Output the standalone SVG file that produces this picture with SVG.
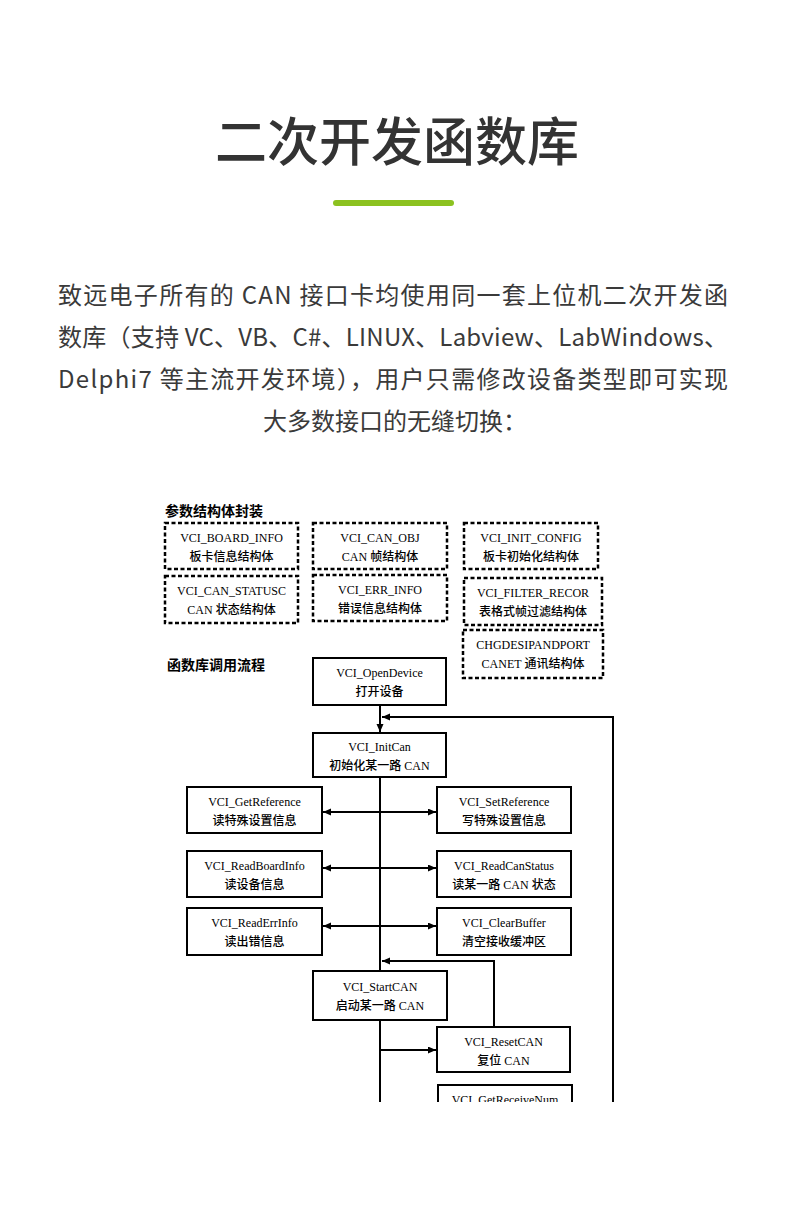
<svg xmlns="http://www.w3.org/2000/svg" width="790" height="1216" viewBox="0 0 790 1216">
<style>
.title{font-family:"Noto Sans CJK SC","Noto Sans",sans-serif;font-size:52px;font-weight:500;fill:#333;text-anchor:middle}
.para{font-family:"Noto Sans CJK SC","Noto Sans",sans-serif;font-size:24px;font-weight:400;fill:#3a3a3a}
.sec{font-family:"Liberation Serif","Noto Sans CJK SC",serif;font-size:14px;font-weight:700;fill:#000}
.t{font-family:"Liberation Serif","Noto Sans CJK SC",serif;font-size:12px;fill:#000;text-anchor:middle}
.c{font-weight:500}
.box{fill:#fff;stroke:#000;stroke-width:2}
.dbox{fill:#fff;stroke:#000;stroke-width:2.5;stroke-dasharray:4 2.5}
.ln{fill:none;stroke:#000;stroke-width:2}
</style>
<defs>
<marker id="ah" markerUnits="userSpaceOnUse" markerWidth="9" markerHeight="8" refX="8" refY="3.5" orient="auto-start-reverse">
<path d="M0,0 L8,3.5 L0,7 z" fill="#000"/>
</marker>
<clipPath id="clip"><rect x="0" y="0" width="790" height="1102"/></clipPath>
</defs>
<rect width="790" height="1216" fill="#fff"/>
<text class="title" x="397" y="161">二次开发函数库</text>
<rect x="333" y="200" width="121" height="6" rx="3" fill="#8cc220"/>
<g id="intro">
<text class="para" x="58" y="304" textLength="670" lengthAdjust="spacing">致远电子所有的 CAN 接口卡均使用同一套上位机二次开发函</text>
<text class="para" x="58" y="346" textLength="670" lengthAdjust="spacing">数库（支持 VC、VB、C#、LINUX、Labview、LabWindows、</text>
<text class="para" x="58" y="388" textLength="670" lengthAdjust="spacing">Delphi7  等主流开发环境），用户只需修改设备类型即可实现</text>
<text class="para" x="395" y="430" text-anchor="middle">大多数接口的无缝切换：</text>
</g>
<g clip-path="url(#clip)">
<text class="sec" x="165" y="516">参数结构体封装</text>
<text class="sec" x="167" y="670">函数库调用流程</text>
<g id="connectors">
<line class="ln" x1="380" y1="705" x2="380" y2="732" marker-end="url(#ah)"/>
<line class="ln" x1="380" y1="777" x2="380" y2="971"/>
<line class="ln" x1="380" y1="1020" x2="380" y2="1110"/>
<polyline class="ln" points="613,1110 613,717 382,717" marker-end="url(#ah)"/>
<polyline class="ln" points="494,1027 494,961 382,961" marker-end="url(#ah)"/>
<line class="ln" x1="323" y1="812" x2="436" y2="812" marker-start="url(#ah)" marker-end="url(#ah)"/>
<line class="ln" x1="323" y1="868" x2="436" y2="868" marker-start="url(#ah)" marker-end="url(#ah)"/>
<line class="ln" x1="323" y1="926" x2="436" y2="926" marker-start="url(#ah)" marker-end="url(#ah)"/>
<line class="ln" x1="380" y1="1050" x2="436" y2="1050" marker-end="url(#ah)"/>
</g>
<g id="board_info"><rect class="dbox" x="165" y="523" width="133" height="46"/><text class="t" x="231.5" y="542">VCI_BOARD_INFO</text><text class="t c" x="231.5" y="561">板卡信息结构体</text></g>
<g id="can_obj"><rect class="dbox" x="313" y="523" width="134" height="46"/><text class="t" x="380" y="542">VCI_CAN_OBJ</text><text class="t c" x="380" y="561">CAN 帧结构体</text></g>
<g id="init_config"><rect class="dbox" x="464" y="523" width="134" height="46"/><text class="t" x="531" y="542">VCI_INIT_CONFIG</text><text class="t c" x="531" y="561">板卡初始化结构体</text></g>
<g id="can_status"><rect class="dbox" x="165" y="576" width="133" height="47"/><text class="t" x="231.5" y="595">VCI_CAN_STATUSC</text><text class="t c" x="231.5" y="614">CAN 状态结构体</text></g>
<g id="err_info"><rect class="dbox" x="313" y="575" width="134" height="46"/><text class="t" x="380" y="594">VCI_ERR_INFO</text><text class="t c" x="380" y="613">错误信息结构体</text></g>
<g id="filter_record"><rect class="dbox" x="464" y="578" width="138" height="47"/><text class="t" x="533" y="597">VCI_FILTER_RECOR</text><text class="t c" x="533" y="616">表格式帧过滤结构体</text></g>
<g id="chgdesipandport"><rect class="dbox" x="463" y="630" width="140" height="48"/><text class="t" x="533" y="649">CHGDESIPANDPORT</text><text class="t c" x="533" y="668">CANET 通讯结构体</text></g>
<g id="open_device"><rect class="box" x="313" y="658" width="133" height="47"/><text class="t" x="379.5" y="677">VCI_OpenDevice</text><text class="t c" x="379.5" y="696">打开设备</text></g>
<g id="init_can"><rect class="box" x="313" y="733" width="133" height="44"/><text class="t" x="379.5" y="751">VCI_InitCan</text><text class="t c" x="379.5" y="770">初始化某一路 CAN</text></g>
<g id="get_reference"><rect class="box" x="187" y="787" width="135" height="46"/><text class="t" x="254.5" y="806">VCI_GetReference</text><text class="t c" x="254.5" y="825">读特殊设置信息</text></g>
<g id="set_reference"><rect class="box" x="437" y="787" width="134" height="46"/><text class="t" x="504" y="806">VCI_SetReference</text><text class="t c" x="504" y="825">写特殊设置信息</text></g>
<g id="read_board_info"><rect class="box" x="187" y="851" width="135" height="46"/><text class="t" x="254.5" y="870">VCI_ReadBoardInfo</text><text class="t c" x="254.5" y="889">读设备信息</text></g>
<g id="read_can_status"><rect class="box" x="437" y="851" width="134" height="46"/><text class="t" x="504" y="870">VCI_ReadCanStatus</text><text class="t c" x="504" y="889">读某一路 CAN 状态</text></g>
<g id="read_err_info"><rect class="box" x="187" y="908" width="135" height="47"/><text class="t" x="254.5" y="927">VCI_ReadErrInfo</text><text class="t c" x="254.5" y="946">读出错信息</text></g>
<g id="clear_buffer"><rect class="box" x="437" y="908" width="134" height="47"/><text class="t" x="504" y="927">VCI_ClearBuffer</text><text class="t c" x="504" y="946">清空接收缓冲区</text></g>
<g id="start_can"><rect class="box" x="313" y="971" width="134" height="49"/><text class="t" x="380" y="991">VCI_StartCAN</text><text class="t c" x="380" y="1010">启动某一路 CAN</text></g>
<g id="reset_can"><rect class="box" x="437" y="1027" width="133" height="45"/><text class="t" x="503.5" y="1046">VCI_ResetCAN</text><text class="t c" x="503.5" y="1065">复位 CAN</text></g>
<g id="get_receive_num"><rect class="box" x="438" y="1085" width="134" height="46"/><text class="t" x="505" y="1104">VCI_GetReceiveNum</text></g>
</g>
</svg>
